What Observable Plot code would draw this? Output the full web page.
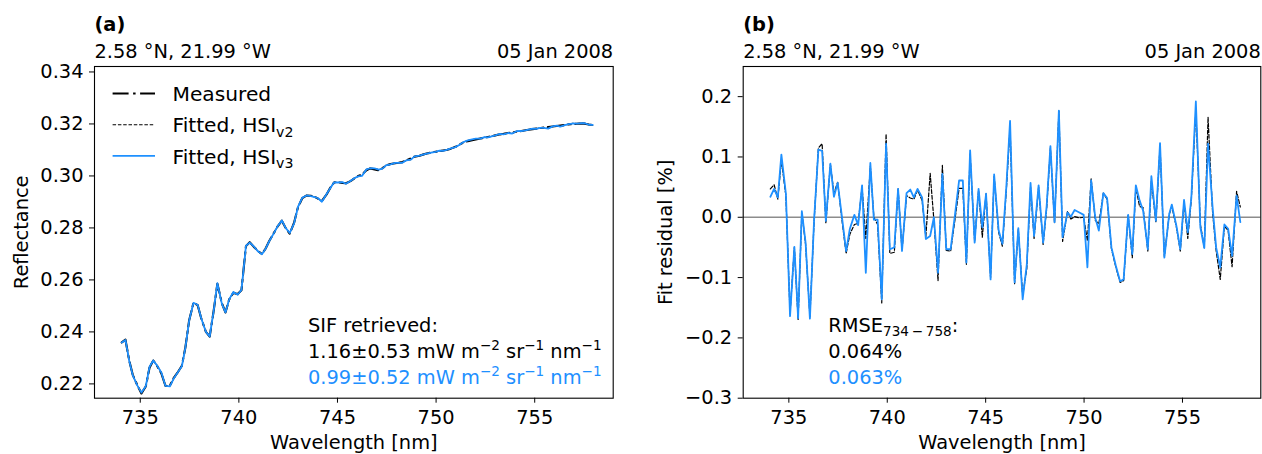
<!DOCTYPE html>
<html><head><meta charset="utf-8">
<script src="https://cdn.jsdelivr.net/npm/d3@7"></script>
<script src="https://cdn.jsdelivr.net/npm/@observablehq/plot@0.6"></script>
<style>
body{margin:0;background:#fff;}
#wrap{position:relative;width:1262px;height:454px;display:flex;}
#wrap svg{display:block;}
</style></head><body><div id="wrap"></div>
<script>
// ---- data ----
const wavelength = [734.06,734.25,734.44,734.62,734.85,735.06,735.28,735.47,735.66,735.85,
736.07,736.28,736.50,736.69,736.88,737.11,737.29,737.48,737.70,737.91,
738.10,738.33,738.52,738.72,738.91,739.14,739.32,739.51,739.72,739.94,
740.13,740.36,740.55,740.75,740.98,741.17,741.35,741.54,741.77,741.96,
742.18,742.37,742.58,742.80,743.00,743.22,743.44,743.65,743.84,744.02,
744.21,744.44,744.64,744.83,745.02,745.25,745.43,745.66,745.85,746.05,
746.24,746.47,746.66,746.88,747.09,747.28,747.46,747.69,747.92,748.10,
748.29,748.50,748.72,748.91,749.16,749.33,749.52,749.76,749.98,750.17,
750.36,750.57,750.75,750.98,751.17,751.39,751.61,751.83,752.01,752.24,
752.45,752.63,752.82,753.00,753.24,753.42,753.65,753.86,754.08,754.33,
754.46,754.69,754.89,755.08,755.27,755.45,755.68,755.91,756.11,756.30,
756.53,756.71,756.92,757.13,757.32,757.52,757.75,757.94];

const measured = [0.2360,0.2370,0.2290,0.2235,0.2195,0.2163,0.2190,0.2262,0.2290,0.2270,
0.2240,0.2192,0.2193,0.2222,0.2242,0.2270,0.2341,0.2445,0.2512,0.2503,
0.2450,0.2400,0.2382,0.2480,0.2585,0.2510,0.2475,0.2525,0.2550,0.2546,
0.2560,0.2730,0.2745,0.2728,0.2710,0.2700,0.2720,0.2750,0.2780,0.2805,
0.2828,0.2800,0.2778,0.2820,0.2880,0.2915,0.2925,0.2924,0.2920,0.2912,
0.2904,0.2928,0.2955,0.2975,0.2976,0.2973,0.2972,0.2980,0.2990,0.3000,
0.3005,0.3022,0.3029,0.3025,0.3022,0.3030,0.3040,0.3046,0.3049,0.3051,
0.3054,0.3060,0.3068,0.3074,0.3078,0.3082,0.3086,0.3090,0.3093,0.3095,
0.3098,0.3101,0.3105,0.3112,0.3120,0.3129,0.3134,0.3137,0.3140,0.3144,
0.3147,0.3150,0.3153,0.3156,0.3160,0.3162,0.3165,0.3167,0.3170,0.3173,
0.3175,0.3178,0.3180,0.3182,0.3184,0.3186,0.3188,0.3190,0.3192,0.3194,
0.3196,0.3198,0.3199,0.3201,0.3202,0.3201,0.3198,0.3196];

// fit residuals [%]
const residualV2 = [0.047,0.054,0.030,0.095,0.035,-0.160,-0.050,-0.170,0.008,-0.045,
-0.165,-0.008,0.115,0.122,-0.010,0.088,0.040,0.058,-0.005,-0.060,
-0.028,-0.012,-0.010,0.050,-0.035,0.085,0.000,-0.012,-0.142,0.138,
-0.060,-0.058,0.048,-0.055,0.036,0.032,0.030,0.045,0.028,-0.032,
0.073,-0.005,-0.105,0.086,-0.055,-0.056,-0.004,0.048,0.048,-0.078,
0.105,-0.040,0.045,-0.033,0.039,-0.100,0.068,-0.025,-0.048,0.045,
0.150,-0.110,-0.020,-0.130,-0.085,0.050,-0.035,0.050,-0.045,0.015,
0.115,-0.010,0.176,-0.040,0.010,-0.003,0.001,-0.001,0.000,-0.039,
0.064,-0.005,-0.011,0.040,0.030,-0.052,-0.082,-0.108,-0.105,0.003,
-0.067,0.050,0.018,0.016,-0.056,0.060,-0.008,0.118,-0.065,0.005,
0.018,-0.016,-0.056,0.025,-0.035,0.030,0.178,-0.012,-0.050,0.166,
0.008,-0.055,-0.103,-0.015,-0.022,-0.082,0.043,0.017];

const residualV3 = [0.034,0.047,0.033,0.104,0.039,-0.164,-0.049,-0.167,0.010,-0.042,
-0.168,-0.006,0.112,0.110,-0.006,0.089,0.034,0.057,0.000,-0.056,
-0.019,0.004,-0.013,0.053,-0.092,0.090,-0.004,-0.004,-0.136,0.122,
-0.053,-0.050,0.047,-0.056,0.040,0.046,0.033,0.047,0.033,-0.036,
-0.031,0.000,-0.092,0.072,-0.053,-0.053,0.004,0.061,0.061,-0.075,
0.111,-0.042,0.047,-0.017,0.039,-0.103,0.071,-0.022,-0.044,0.050,
0.160,-0.108,-0.018,-0.136,-0.078,0.057,-0.031,0.053,-0.042,0.019,
0.118,-0.008,0.177,-0.033,0.008,0.001,0.012,0.008,0.004,-0.083,
0.061,-0.001,-0.022,0.040,0.032,-0.050,-0.080,-0.106,-0.103,0.004,
-0.061,0.053,0.028,0.011,-0.053,0.068,-0.006,0.123,-0.067,0.006,
0.021,-0.014,-0.053,0.029,-0.025,0.032,0.192,-0.017,-0.051,0.122,
0.017,-0.050,-0.083,-0.012,-0.019,-0.064,0.036,-0.008];

const wavelengthTicks = [735, 740, 745, 750, 755];
const reflectanceTicks = [0.22, 0.24, 0.26, 0.28, 0.30, 0.32, 0.34];
const residualTicks = [-0.3, -0.2, -0.1, 0.0, 0.1, 0.2];
const panelLabels = ["(a)", "(b)"];
const siteLabel = "2.58 °N, 21.99 °W";
const dateLabel = "05 Jan 2008";
const legendLabels = ["Measured", "Fitted, HSI|v2", "Fitted, HSI|v3"];
const sifV2 = "1.16±0.53";
const sifV3 = "0.99±0.52";
const rmseV2 = "0.064%";
const rmseV3 = "0.063%";

// ---- table (fitted = measured × (1 − residual/100)) ----
const rows = wavelength.map((w, i) => ({
  w,
  meas: measured[i],
  fitV2: measured[i] * (1 - residualV2[i] / 100),
  fitV3: measured[i] * (1 - residualV3[i] / 100),
  rV2: residualV2[i],
  rV3: residualV3[i]
}));

const BLUE = "#1e90ff";
const FS = 19.4;
const FONT = "DejaVu Sans";
const xDomain = [732.68, 758.98];
const DASHDOT = "16,4.5,2.5,4.5";
const DASHED = "3.5,1.8";

function richText(g, x, y, parts, fill = "black", size = FS) {
  const t = g.append("text").attr("x", x).attr("y", y).attr("fill", fill)
    .attr("text-anchor", "start")
    .attr("font-size", size).attr("font-family", FONT);
  let shift = 0;
  for (const p of parts) {
    const s = typeof p === "string" ? {t: p} : p;
    const target = s.sub ? 4.5 : s.sup ? -8 : 0;
    t.append("tspan").attr("dy", target - shift)
      .attr("font-size", (s.sub || s.sup) ? size * 0.7 : size)
      .text(s.t);
    shift = target;
  }
  return t;
}
function unitParts(value) {
  return [value + " mW m", {t: "−2", sup: true}, " sr", {t: "−1", sup: true}, " nm", {t: "−1", sup: true}];
}

function headerMarks(label) {
  return [
    Plot.text([label], {frameAnchor: "top-left", dy: -41.5, text: d => d, textAnchor: "start", lineAnchor: "middle", fontWeight: "bold"}),
    Plot.text([siteLabel], {frameAnchor: "top-left", dy: -15, text: d => d, textAnchor: "start", lineAnchor: "middle"}),
    Plot.text([dateLabel], {frameAnchor: "top-right", dy: -15, text: d => d, textAnchor: "end", lineAnchor: "middle"})
  ];
}

const common = {
  width: 631, height: 454, marginTop: 66, marginBottom: 56.3,
  style: {fontFamily: FONT, fontSize: FS + "px", background: "white", color: "black", overflow: "visible"},
  x: {domain: xDomain}
};

// ---- panel (a) ----
const plotA = Plot.plot({
  ...common,
  marginLeft: 94, marginRight: 18.3,
  y: {domain: [0.2145, 0.3421]},
  marks: [
    Plot.line(rows, {x: "w", y: "meas", stroke: "black", strokeWidth: 2.1, strokeDasharray: DASHDOT}),
    Plot.line(rows, {x: "w", y: "fitV2", stroke: "black", strokeWidth: 1.1, strokeDasharray: DASHED}),
    Plot.line(rows, {x: "w", y: "fitV3", stroke: BLUE, strokeWidth: 1.8}),
    Plot.frame({stroke: "black", strokeWidth: 1.1}),
    Plot.axisX({ticks: wavelengthTicks, tickFormat: d => String(d), tickSize: 5, tickPadding: 7, label: null}),
    Plot.axisY({ticks: reflectanceTicks, tickFormat: d3.format(".2f"), tickSize: 5, tickPadding: 6, label: null}),
    Plot.text(["Reflectance"], {frameAnchor: "left", dx: -73, rotate: -90, text: d => d, textAnchor: "middle", lineAnchor: "middle"}),
    Plot.text(["Wavelength [nm]"], {frameAnchor: "bottom", dy: 44.5, text: d => d, textAnchor: "middle", lineAnchor: "middle"}),
    ...headerMarks(panelLabels[0]),
    (index, scales, values, dim) => {
      const g = d3.create("svg:g");
      const L = dim.marginLeft, T = dim.marginTop, B = dim.height - dim.marginBottom;
      const styles = [
        {stroke: "black", width: 2.1, dash: DASHDOT},
        {stroke: "black", width: 1.1, dash: DASHED},
        {stroke: BLUE, width: 1.8, dash: null}
      ];
      legendLabels.forEach((lab, i) => {
        const ly = T + 27.5 + i * 31.2;
        const s = styles[i];
        const ln = g.append("line").attr("x1", L + 18.6).attr("x2", L + 61).attr("y1", ly).attr("y2", ly)
          .attr("stroke", s.stroke).attr("stroke-width", s.width);
        if (s.dash) ln.attr("stroke-dasharray", s.dash);
        const [main, sub] = lab.split("|");
        const parts = sub ? [main, {t: sub, sub: true}] : [main];
        richText(g, L + 78.5, ly + 7.6, parts, "black", 20.2);
      });
      richText(g, L + 214, B - 66, ["SIF retrieved:"]);
      richText(g, L + 214, B - 40, unitParts(sifV2));
      richText(g, L + 214, B - 14.2, unitParts(sifV3), BLUE);
      return g.node();
    }
  ]
});

// ---- panel (b) ----
const plotB = Plot.plot({
  ...common,
  marginLeft: 111.7, marginRight: 1.7,
  y: {domain: [-0.3, 0.25]},
  marks: [
    Plot.ruleY([0], {stroke: "#8c8c8c", strokeWidth: 1.5}),
    Plot.line(rows, {x: "w", y: "rV2", stroke: "black", strokeWidth: 1.2, strokeDasharray: "3.8,1.9"}),
    Plot.line(rows, {x: "w", y: "rV3", stroke: BLUE, strokeWidth: 1.8}),
    Plot.frame({stroke: "black", strokeWidth: 1.1}),
    Plot.axisX({ticks: wavelengthTicks, tickFormat: d => String(d), tickSize: 5, tickPadding: 7, label: null}),
    Plot.axisY({ticks: residualTicks, tickFormat: d3.format(".1f"), tickSize: 5, tickPadding: 6, label: null}),
    Plot.text(["Fit residual [%]"], {frameAnchor: "left", dx: -77, rotate: -90, text: d => d, textAnchor: "middle", lineAnchor: "middle"}),
    Plot.text(["Wavelength [nm]"], {frameAnchor: "bottom", dy: 44.5, text: d => d, textAnchor: "middle", lineAnchor: "middle"}),
    ...headerMarks(panelLabels[1]),
    (index, scales, values, dim) => {
      const g = d3.create("svg:g");
      const L = dim.marginLeft, B = dim.height - dim.marginBottom;
      richText(g, L + 85.6, B - 66, ["RMSE", {t: "734\u2009−\u2009758", sub: true}, ":"]);
      richText(g, L + 85.6, B - 39.5, [rmseV2]);
      richText(g, L + 85.6, B - 13.5, [rmseV3], BLUE);
      return g.node();
    }
  ]
});

const wrap = document.getElementById("wrap");
wrap.appendChild(plotA);
wrap.appendChild(plotB);
</script>
</body></html>
